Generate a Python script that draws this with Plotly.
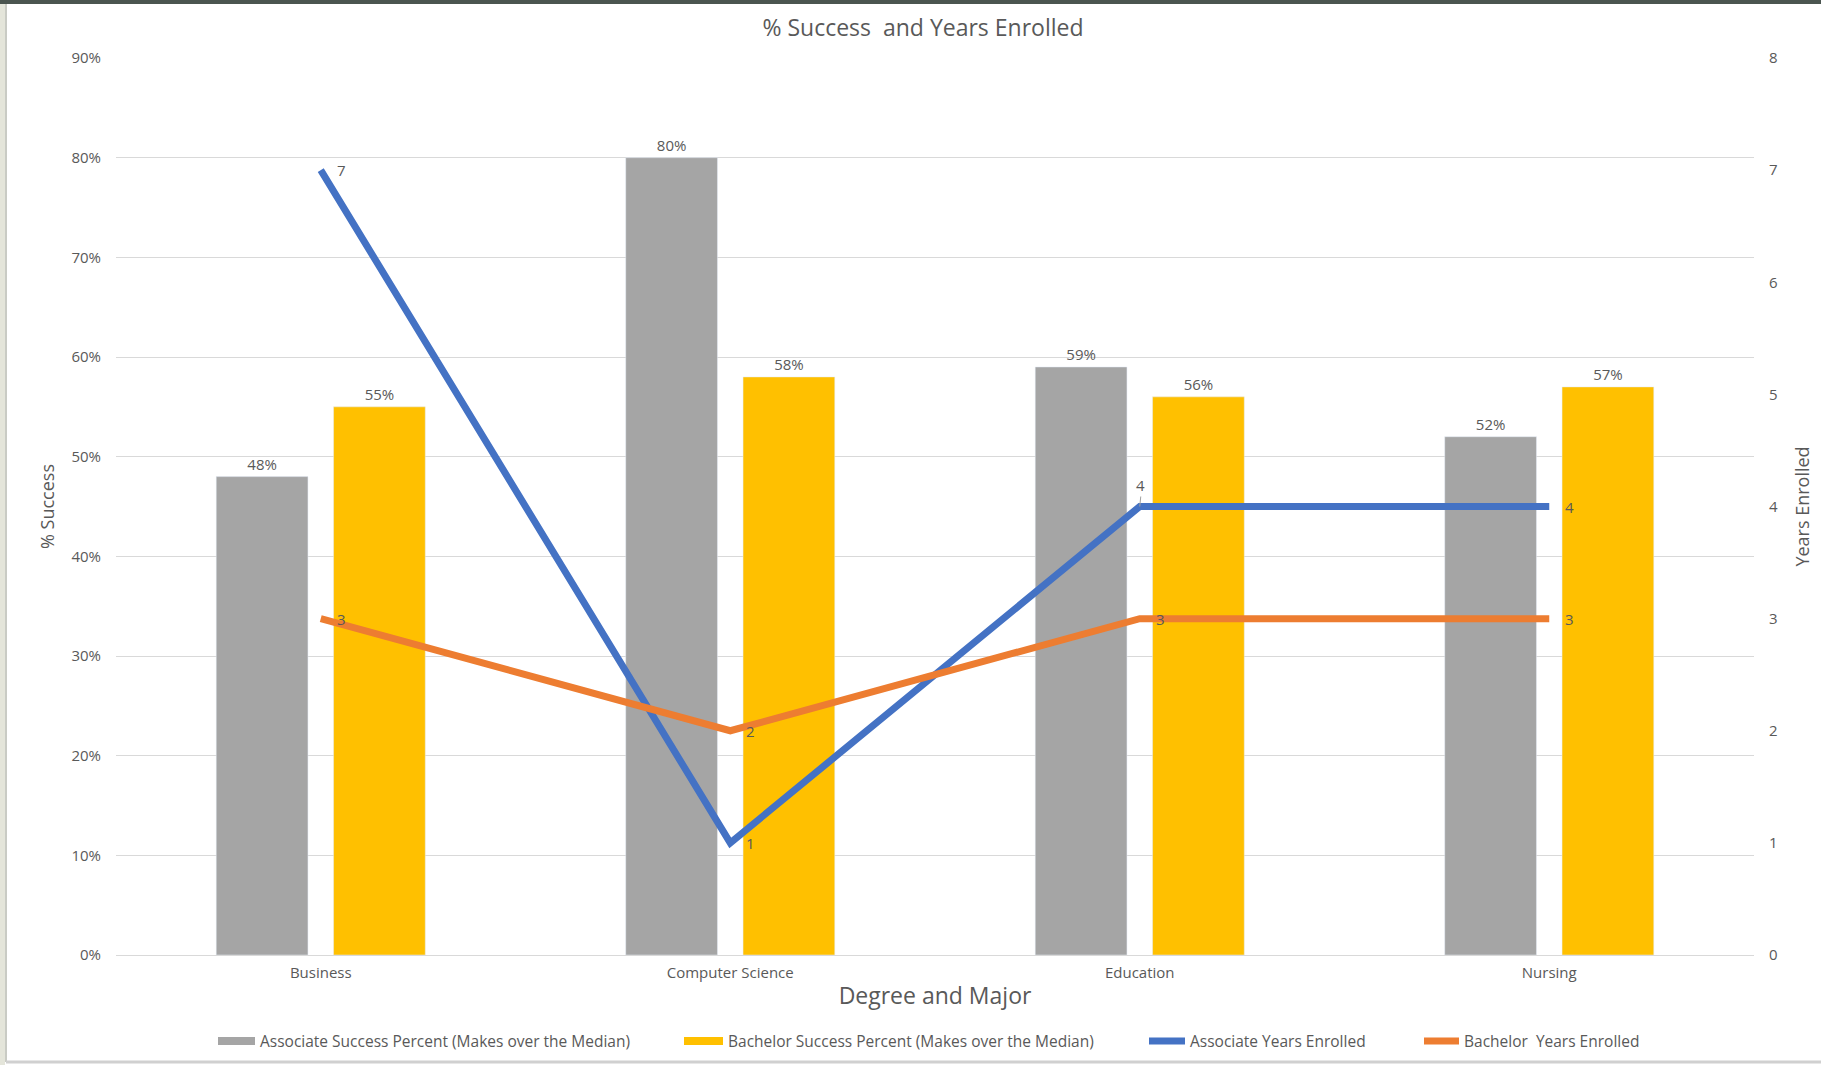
import plotly.graph_objects as go

categories = ["Business", "Computer Science", "Education", "Nursing"]
assoc_success = [0.48, 0.80, 0.59, 0.52]
bach_success = [0.55, 0.58, 0.56, 0.57]
assoc_years = [7, 1, 4, 4]
bach_years = [3, 2, 3, 3]

pct_ticks = [0, 0.1, 0.2, 0.3, 0.4, 0.5, 0.6, 0.7, 0.8, 0.9]
year_ticks = [0, 1, 2, 3, 4, 5, 6, 7, 8]

series_names = ["Associate Success Percent (Makes over the Median)",
                "Bachelor Success Percent (Makes over the Median)",
                "Associate Years Enrolled",
                "Bachelor  Years Enrolled"]

TXT = "#595959"
FONT = "Open Sans"
GRAY = "#A5A5A5"
GOLD = "#FFC000"
BLUE = "#4472C4"
ORANGE = "#ED7D31"

W, H = 1821, 1065
ML, MR, MT, MB = 116, 67, 58, 110
PW, PH = W - ML - MR, H - MT - MB


def px_x(px):
    return (px - ML) / PW


def px_y(py):
    return (H - MB - py) / PH


fig = go.Figure()
fig.add_trace(go.Bar(
    x=categories, y=assoc_success, name=series_names[0],
    marker=dict(color=GRAY), texttemplate="%{y:.0%}", textposition="outside",
    textfont=dict(color=TXT, size=15), cliponaxis=False))
fig.add_trace(go.Bar(
    x=categories, y=bach_success, name=series_names[1],
    marker=dict(color=GOLD), texttemplate="%{y:.0%}", textposition="outside",
    textfont=dict(color=TXT, size=15), cliponaxis=False))
fig.add_trace(go.Scatter(
    x=categories, y=assoc_years, name=series_names[2], yaxis="y2",
    mode="lines", line=dict(color=BLUE, width=7), cliponaxis=False))
fig.add_trace(go.Scatter(
    x=categories, y=bach_years, name=series_names[3], yaxis="y2",
    mode="lines", line=dict(color=ORANGE, width=7), cliponaxis=False))

annotations = []
for i, (c, v) in enumerate(zip(categories, assoc_years)):
    if i == 2:
        annotations.append(dict(x=c, y=v, xref="x", yref="y2", text=str(v), showarrow=True,
                                arrowhead=0, arrowwidth=1, arrowcolor="#A0A0A0", ax=1, ay=-10,
                                yanchor="bottom", font=dict(color=TXT, size=15)))
    else:
        annotations.append(dict(x=c, y=v, xref="x", yref="y2", text=str(v), showarrow=False,
                                xanchor="left", xshift=14, font=dict(color=TXT, size=15)))
for c, v in zip(categories, bach_years):
    annotations.append(dict(x=c, y=v, xref="x", yref="y2", text=str(v), showarrow=False,
                            xanchor="left", xshift=14, font=dict(color=TXT, size=15)))

# custom legend (wide swatches like the original)
LEG_Y = 1041
legend_items = [
    ("rect", GRAY, 218, 255, 258),
    ("rect", GOLD, 684, 723, 726),
    ("line", BLUE, 1146, 1188, 1188),
    ("line", ORANGE, 1421, 1462, 1462),
]
shapes = []
for (kind, col, x0, x1, tx), name in zip(legend_items, series_names):
    if kind == "rect":
        shapes.append(dict(type="rect", xref="paper", yref="paper",
                           x0=px_x(x0), x1=px_x(x1), y0=px_y(LEG_Y + 4), y1=px_y(LEG_Y - 4),
                           fillcolor=col, line=dict(width=0)))
    else:
        shapes.append(dict(type="line", xref="paper", yref="paper",
                           x0=px_x(x0 + 3), x1=px_x(x1 - 3), y0=px_y(LEG_Y), y1=px_y(LEG_Y),
                           line=dict(color=col, width=7)))
    annotations.append(dict(xref="paper", yref="paper", x=px_x(tx), y=px_y(LEG_Y),
                            xanchor="left", yanchor="middle", showarrow=False, text=name,
                            font=dict(size=15.5, color=TXT)))

# window frame decoration
shapes += [
    dict(type="rect", xref="paper", yref="paper", x0=px_x(-5), x1=px_x(W + 5),
         y0=px_y(4), y1=px_y(-5), fillcolor="#4B5550", line=dict(width=0), layer="above"),
    dict(type="rect", xref="paper", yref="paper", x0=px_x(-5), x1=px_x(5),
         y0=px_y(H + 5), y1=px_y(4), fillcolor="#E4E5DA", line=dict(width=0), layer="above"),
    dict(type="line", xref="paper", yref="paper", x0=px_x(6), x1=px_x(6),
         y0=px_y(1062), y1=px_y(4), line=dict(color="#C9CBC4", width=2), layer="above"),
    dict(type="line", xref="paper", yref="paper", x0=px_x(6), x1=px_x(W + 5),
         y0=px_y(1062), y1=px_y(1062), line=dict(color="#D0D0D0", width=3), layer="above"),
]

fig.update_layout(
    width=W, height=H,
    margin=dict(l=ML, r=MR, t=MT, b=MB, autoexpand=False),
    paper_bgcolor="white", plot_bgcolor="white",
    font=dict(family=FONT, color=TXT, size=15),
    showlegend=False,
    title=dict(text="% Success  and Years Enrolled", x=923 / W, xanchor="center",
               y=1 - 28 / H, yanchor="middle", font=dict(size=23, color=TXT)),
    barmode="group", bargap=0.427, bargroupgap=0.218,
    xaxis=dict(title=dict(text="Degree and Major", font=dict(size=23, color=TXT), standoff=6),
               range=[-0.5, 3.5], showgrid=False, showline=True, linecolor="#D9D9D9",
               ticks="", tickfont=dict(size=15, color=TXT), ticklabelstandoff=4),
    yaxis=dict(title=dict(text="% Success", font=dict(size=18, color=TXT), standoff=12),
               range=[0, 0.9], tickvals=pct_ticks, tickformat=".0%",
               showgrid=True, gridcolor="#D9D9D9", gridwidth=1, zeroline=False,
               tickfont=dict(size=15, color=TXT), ticklabelstandoff=14),
    yaxis2=dict(title=dict(text="Years Enrolled", font=dict(size=18, color=TXT), standoff=19),
                range=[0, 8], tickvals=year_ticks, overlaying="y", side="right",
                showgrid=False, zeroline=False,
                tickfont=dict(size=15, color=TXT), ticklabelstandoff=14),
    annotations=annotations,
    shapes=shapes,
)

fig.write_html("out.html")
